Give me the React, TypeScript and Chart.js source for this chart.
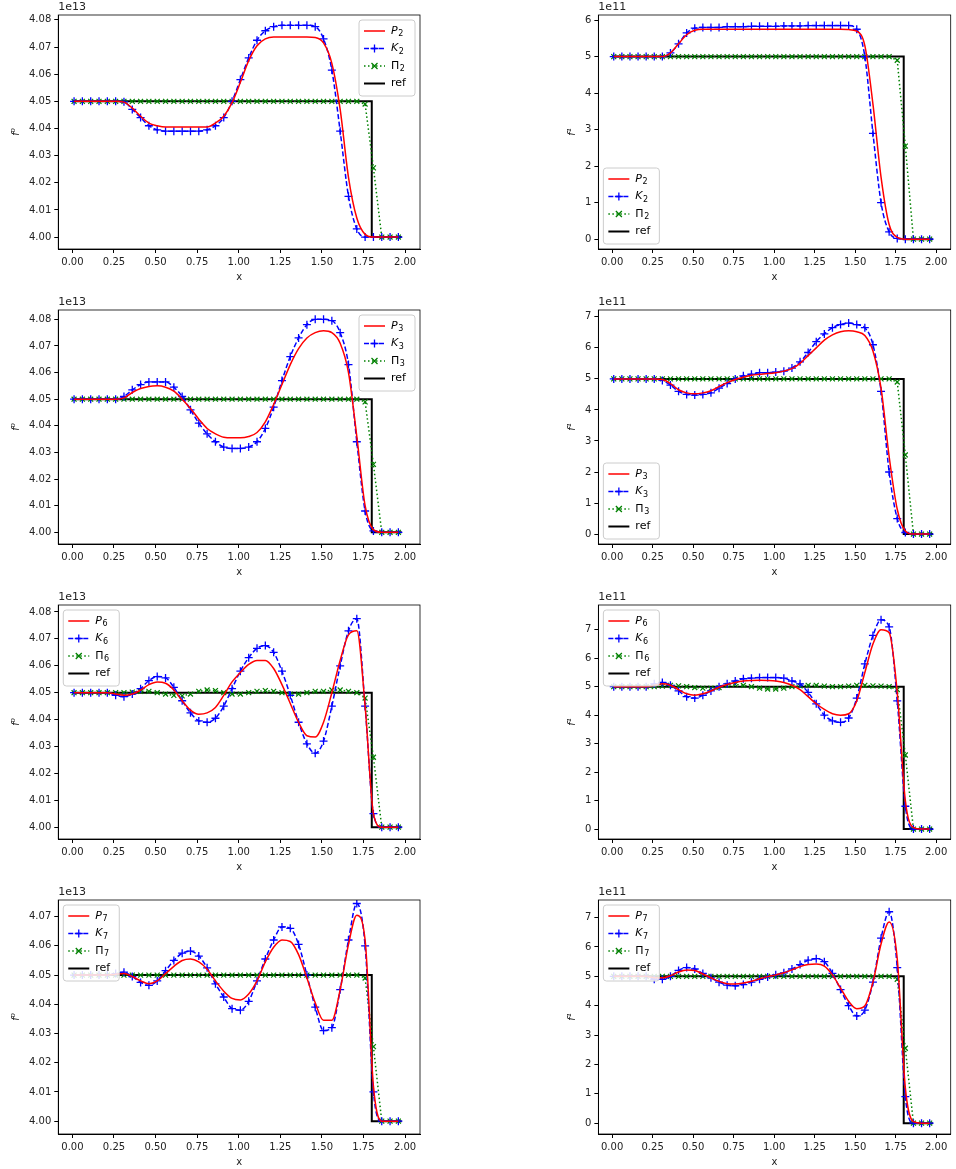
import React, { useEffect, useRef } from "react";
import { Chart, registerables } from "chart.js";
Chart.register(...registerables);

const xs = [0.01,0.06,0.11,0.16,0.21,0.26,0.31,0.36,0.41,0.46,0.51,0.56,0.61,0.66,0.71,0.76,0.81,0.86,0.91,0.96,1.01,1.06,1.11,1.16,1.21,1.26,1.31,1.36,1.41,1.46,1.51,1.56,1.61,1.66,1.71,1.76,1.81,1.86,1.91,1.96];
const refX = [0, 1.8, 1.8, 1.98];
const refLeft = [4.05, 4.05, 4.0, 4.0];
const refRight = [5, 5, 0, 0];
const xTicks = [0, 0.25, 0.5, 0.75, 1.0, 1.25, 1.5, 1.75, 2.0];
const leftTicks = [4.0, 4.01, 4.02, 4.03, 4.04, 4.05, 4.06, 4.07, 4.08];
const rightTicks6 = [0, 1, 2, 3, 4, 5, 6];
const rightTicks7 = [0, 1, 2, 3, 4, 5, 6, 7];

const piLeft = [4.05,4.05,4.05,4.05,4.05,4.05,4.05,4.05,4.05,4.05,4.05,4.05,4.05,4.05,4.05,4.05,4.05,4.05,4.05,4.05,4.05,4.05,4.05,4.05,4.05,4.05,4.05,4.05,4.05,4.05,4.05,4.05,4.05,4.05,4.05,4.049,4.0255,4.0,4.0,4.0];
const piRight = [5,5,5,5,5,5,5,5,5,5,5,5,5,5,5,5,5,5,5,5,5,5,5,5,5,5,5,5,5,5,5,5,5,5,5,4.9,2.55,0,0,0];

const k2L = [4.05,4.05,4.05,4.05,4.05, 4.05,4.0498,4.047,4.044,4.041, 4.0395,4.039,4.039,4.039,4.039, 4.039,4.0395,4.041,4.044,4.050, 4.058,4.066,4.0725,4.076,4.0775, 4.078,4.078,4.078,4.078,4.0775, 4.073,4.0615,4.039,4.015,4.003, 4.000,4.0,4.0,4.0,4.0];
const p2L = [4.05,4.05,4.05,4.05,4.05, 4.05,4.0497,4.0475,4.0445,4.042, 4.041,4.0405,4.0405,4.0405,4.0405, 4.0405,4.0405,4.042,4.0445,4.0495, 4.057,4.065,4.0705,4.073,4.0737, 4.0737,4.0737,4.0737,4.0737,4.0735, 4.0715,4.064,4.047,4.022,4.007, 4.001,4.0,4.0,4.0,4.0];
const k2R = [5,5,5,5,5, 5,5.0,5.1,5.35,5.65, 5.78,5.8,5.8,5.8,5.82, 5.82,5.82,5.83,5.83,5.83, 5.83,5.84,5.84,5.84,5.85, 5.85,5.85,5.85,5.85,5.85, 5.75,5.0,2.9,1.0,0.2, 0.02,0,0,0,0];
const p2R = [5,5,5,5,5, 5,5.0,5.1,5.35,5.6, 5.72,5.75,5.75,5.75,5.75, 5.75,5.75,5.75,5.75,5.75, 5.75,5.75,5.75,5.75,5.75, 5.75,5.75,5.75,5.75,5.74, 5.7,5.3,3.7,1.7,0.4, 0.05,0,0,0,0];

const k3L = [4.05,4.05,4.05,4.05,4.05, 4.05,4.051,4.0535,4.0555,4.0565, 4.0565,4.0565,4.0545,4.051,4.046, 4.041,4.037,4.034,4.032,4.0315, 4.0315,4.032,4.034,4.039,4.047, 4.057,4.066,4.073,4.078,4.080, 4.080,4.0795,4.075,4.063,4.034, 4.008,4.0005,4.0,4.0,4.0];
const p3L = [4.05,4.05,4.05,4.05,4.05, 4.05,4.0505,4.0525,4.054,4.0548, 4.055,4.0545,4.053,4.050,4.0465, 4.0425,4.039,4.037,4.0357,4.0355, 4.0355,4.036,4.0375,4.0415,4.048, 4.0555,4.063,4.069,4.073,4.075, 4.0757,4.075,4.071,4.060,4.036, 4.010,4.001,4.0,4.0,4.0];
const k3R = [5,5,5,5,5, 5,4.95,4.8,4.6,4.5, 4.48,4.5,4.55,4.7,4.85, 5.0,5.1,5.15,5.2,5.2, 5.22,5.25,5.35,5.55,5.85, 6.2,6.45,6.65,6.75,6.8, 6.75,6.65,6.1,4.6,2.0, 0.5,0.05,0,0,0];
const p3R = [5,5,5,5,5, 5,4.98,4.85,4.65,4.55, 4.52,4.55,4.62,4.75,4.88, 4.98,5.05,5.12,5.15,5.17, 5.2,5.25,5.33,5.5,5.75, 6.0,6.25,6.42,6.52,6.55, 6.52,6.4,5.9,4.7,2.5, 0.8,0.1,0,0,0];

const k6L = [4.05,4.05,4.05,4.05,4.05, 4.049,4.0485,4.0495,4.0515,4.0545, 4.056,4.0555,4.052,4.047,4.0425, 4.0395,4.039,4.0405,4.045,4.0515, 4.058,4.063,4.0665,4.0675,4.065, 4.058,4.049,4.039,4.031,4.0275, 4.032,4.045,4.060,4.073,4.0775, 4.045,4.005,4.0,4.0,4.0];
const p6L = [4.05,4.05,4.05,4.05,4.05, 4.0495,4.049,4.0495,4.051,4.053, 4.054,4.0535,4.051,4.047,4.0435, 4.042,4.0425,4.0445,4.049,4.054, 4.0575,4.0605,4.062,4.062,4.059, 4.053,4.046,4.039,4.034,4.0335, 4.039,4.050,4.062,4.0715,4.073, 4.045,4.005,4.0,4.0,4.0];
const pi6L = [4.05,4.05,4.05,4.05,4.05, 4.05,4.05,4.0502,4.0505,4.0505, 4.05,4.0495,4.049,4.0488,4.0495, 4.0505,4.051,4.0508,4.05,4.0495, 4.0495,4.05,4.0505,4.0508,4.0505, 4.05,4.0495,4.0495,4.05,4.0505, 4.0505,4.051,4.051,4.0505,4.050, 4.048,4.026,4.0,4.0,4.0];
const k6R = [5,5,5,5,5, 5.1,5.15,5.05,4.85,4.65, 4.6,4.7,4.85,5.0,5.1, 5.2,5.28,5.3,5.32,5.32, 5.32,5.3,5.2,5.1,4.8, 4.4,4.0,3.8,3.75,3.9, 4.6,5.8,6.8,7.35,7.1, 4.5,0.8,0,0,0];
const p6R = [5,5,5,5,5, 5.05,5.1,5.05,4.9,4.75, 4.7,4.75,4.85,4.98,5.08, 5.15,5.2,5.22,5.23,5.22, 5.2,5.15,5.05,4.9,4.65, 4.4,4.2,4.05,4.0,4.05, 4.5,5.5,6.5,7.0,6.9, 4.8,1.0,0.05,0,0];
const pi6R = [5,5,5,5,5, 5,5.02,5.05,5.03,5.0, 4.97,4.95,4.95,4.97,5.05, 5.08,5.05,5.0,4.95,4.92, 4.92,4.95,5.0,5.03,5.05, 5.05,5.02,5.0,5.0,5.02, 5.05,5.05,5.03,5.02,5.0, 4.9,2.6,0,0,0];

const k7L = [4.05,4.05,4.05,4.05,4.05, 4.0505,4.051,4.0495,4.0475,4.0465, 4.048,4.0515,4.055,4.0575,4.0582, 4.0565,4.0525,4.047,4.0425,4.0385, 4.038,4.041,4.048,4.0555,4.062, 4.0665,4.066,4.0605,4.050,4.039, 4.031,4.032,4.045,4.062,4.0745, 4.060,4.010,4.0,4.0,4.0];
const p7L = [4.05,4.05,4.05,4.05,4.05, 4.0503,4.0505,4.0495,4.048,4.047, 4.048,4.0505,4.053,4.055,4.0555, 4.0545,4.052,4.048,4.0445,4.042, 4.0415,4.0435,4.048,4.0545,4.0595, 4.062,4.0615,4.057,4.049,4.0405, 4.0345,4.0345,4.045,4.0605,4.0705, 4.062,4.012,4.0,4.0,4.0];
const k7R = [5,5,5,5,5, 4.9,4.9,5.0,5.2,5.3, 5.25,5.1,4.95,4.8,4.7, 4.68,4.72,4.8,4.9,4.98, 5.05,5.12,5.25,5.4,5.55, 5.6,5.5,5.1,4.55,4.0, 3.65,3.85,4.8,6.3,7.2, 5.3,0.9,0,0,0];
const p7R = [5,5,5,5,5, 4.95,4.95,5.02,5.15,5.22, 5.2,5.08,4.95,4.83,4.75, 4.74,4.77,4.83,4.92,4.99, 5.05,5.12,5.22,5.33,5.4, 5.42,5.35,5.05,4.6,4.15, 3.9,4.0,4.8,6.1,6.85, 5.6,1.2,0.05,0,0];

type Cfg = {
  left: number; top: number; width: number; side: "L" | "R"; order: string;
  p: number[]; k: number[]; pi: number[]; ymin: number; ymax: number; yticks: number[];
  legend: "ur" | "ll" | "ul";
};

const H = 287;
const panels: Cfg[] = [
  { left: 0, top: 0, width: 430, side: "L", order: "2", p: p2L, k: k2L, pi: piLeft, ymin: 3.9956, ymax: 4.0818, yticks: leftTicks, legend: "ur" },
  { left: 558, top: 0, width: 398, side: "R", order: "2", p: p2R, k: k2R, pi: piRight, ymin: -0.27, ymax: 6.14, yticks: rightTicks6, legend: "ll" },
  { left: 0, top: 295, width: 430, side: "L", order: "3", p: p3L, k: k3L, pi: piLeft, ymin: 3.9956, ymax: 4.0835, yticks: leftTicks, legend: "ur" },
  { left: 558, top: 295, width: 398, side: "R", order: "3", p: p3R, k: k3R, pi: piRight, ymin: -0.32, ymax: 7.22, yticks: rightTicks7, legend: "ll" },
  { left: 0, top: 590, width: 430, side: "L", order: "6", p: p6L, k: k6L, pi: pi6L, ymin: 3.9956, ymax: 4.0826, yticks: leftTicks, legend: "ul" },
  { left: 558, top: 590, width: 398, side: "R", order: "6", p: p6R, k: k6R, pi: pi6R, ymin: -0.35, ymax: 7.87, yticks: rightTicks7, legend: "ul" },
  { left: 0, top: 885, width: 430, side: "L", order: "7", p: p7L, k: k7L, pi: piLeft, ymin: 3.9956, ymax: 4.0757, yticks: leftTicks, legend: "ul" },
  { left: 558, top: 885, width: 398, side: "R", order: "7", p: p7R, k: k7R, pi: piRight, ymin: -0.37, ymax: 7.6, yticks: rightTicks7, legend: "ul" },
];

const FONT = "'DejaVu Sans', sans-serif";

function drawMarker(ctx: CanvasRenderingContext2D, kind: string, x: number, y: number, color: string) {
  ctx.save();
  ctx.strokeStyle = color;
  ctx.lineWidth = 1.3;
  ctx.setLineDash([]);
  ctx.beginPath();
  if (kind === "+") {
    ctx.moveTo(x - 4, y); ctx.lineTo(x + 4, y); ctx.moveTo(x, y - 4); ctx.lineTo(x, y + 4);
  } else {
    ctx.moveTo(x - 3, y - 3); ctx.lineTo(x + 3, y + 3); ctx.moveTo(x - 3, y + 3); ctx.lineTo(x + 3, y - 3);
  }
  ctx.stroke();
  ctx.restore();
}

function Panel({ cfg }: { cfg: Cfg }) {
  const ref = useRef<HTMLCanvasElement>(null);
  useEffect(() => {
    const pts = (ys: number[]) => xs.map((x, i) => ({ x, y: ys[i] }));
    const refY = cfg.side === "L" ? refLeft : refRight;
    const entries = [
      { base: "P", sub: cfg.order, italic: true, color: "#ff0000", dash: [] as number[], marker: "" },
      { base: "K", sub: cfg.order, italic: true, color: "#0000ff", dash: [5, 2.5], marker: "+" },
      { base: "Π", sub: cfg.order, italic: false, color: "#008000", dash: [1.5, 2.5], marker: "x" },
      { base: "ref", sub: "", italic: false, color: "#000000", dash: [] as number[], marker: "" },
    ];
    const plugin = {
      id: "deco",
      afterDraw(chart: any) {
        const ctx = chart.ctx as CanvasRenderingContext2D;
        const a = chart.chartArea;
        ctx.save();
        ctx.strokeStyle = "#000";
        ctx.lineWidth = 0.8;
        ctx.strokeRect(a.left, a.top, a.right - a.left, a.bottom - a.top);
        ctx.fillStyle = "#222";
        ctx.font = `11px ${FONT}`;
        ctx.textAlign = "left";
        ctx.textBaseline = "bottom";
        ctx.fillText(cfg.side === "L" ? "1e13" : "1e11", a.left, a.top - 2);
        const bw = 56, bh = 76;
        let bx = a.right - bw - 5, by = a.top + 5;
        if (cfg.legend === "ll") { bx = a.left + 5; by = a.bottom - bh - 5; }
        if (cfg.legend === "ul") { bx = a.left + 5; by = a.top + 5; }
        ctx.fillStyle = "rgba(255,255,255,0.85)";
        ctx.strokeStyle = "#cccccc";
        ctx.lineWidth = 1;
        ctx.beginPath();
        (ctx as any).roundRect ? (ctx as any).roundRect(bx, by, bw, bh, 3) : ctx.rect(bx, by, bw, bh);
        ctx.fill(); ctx.stroke();
        entries.forEach((e, i) => {
          const cy = by + 11 + i * 17.5;
          ctx.save();
          ctx.strokeStyle = e.color;
          ctx.lineWidth = e.base === "ref" ? 2 : 1.5;
          ctx.setLineDash(e.dash);
          ctx.beginPath(); ctx.moveTo(bx + 5, cy); ctx.lineTo(bx + 26, cy); ctx.stroke();
          ctx.restore();
          if (e.marker) drawMarker(ctx, e.marker, bx + 15.5, cy, e.color);
          ctx.fillStyle = "#000";
          ctx.textBaseline = "middle";
          ctx.font = `${e.italic ? "italic " : ""}11px ${FONT}`;
          ctx.fillText(e.base, bx + 32, cy);
          if (e.sub) {
            const w = ctx.measureText(e.base).width;
            ctx.font = `8px ${FONT}`;
            ctx.fillText(e.sub, bx + 32 + w + 0.5, cy + 3);
          }
        });
        ctx.restore();
      },
    };
    const chart = new Chart(ref.current!, {
      type: "line",
      data: {
        datasets: [
          { data: pts(cfg.p), borderColor: "#ff0000", borderWidth: 1.5, pointRadius: 0, cubicInterpolationMode: "monotone" } as any,
          { data: pts(cfg.k), borderColor: "#0000ff", borderWidth: 1.5, borderDash: [5, 2.5], pointStyle: "cross", pointRadius: 4, pointBorderWidth: 1.3, pointBorderColor: "#0000ff", cubicInterpolationMode: "monotone" },
          { data: pts(cfg.pi), borderColor: "#008000", borderWidth: 1.5, borderDash: [1.5, 2.5], pointStyle: "crossRot", pointRadius: 3.5, pointBorderWidth: 1.2, pointBorderColor: "#008000" },
          { data: refX.map((x, i) => ({ x, y: refY[i] })), borderColor: "#000000", borderWidth: 2, pointRadius: 0 },
        ],
      },
      options: {
        animation: false,
        responsive: false,
        layout: { padding: { top: 15, left: cfg.side === "L" ? 6 : 4, right: cfg.side === "R" ? 1 : 10 } },
        plugins: { legend: { display: false }, tooltip: { enabled: false } },
        scales: {
          x: {
            type: "linear", min: -0.085, max: 2.09,
            afterBuildTicks: (ax: any) => { ax.ticks = xTicks.map((v) => ({ value: v })); },
            ticks: { color: "#222", font: { family: FONT, size: 10 }, callback: (v: any) => Number(v).toFixed(2), maxRotation: 0 },
            grid: { drawOnChartArea: false, drawTicks: true, tickLength: 4, color: "#000" },
            border: { color: "#000" },
            title: { display: true, text: "x", color: "#222", font: { family: FONT, size: 10 }, padding: { top: 0 } },
          },
          y: {
            type: "linear", min: cfg.ymin, max: cfg.ymax,
            afterBuildTicks: (ax: any) => { ax.ticks = cfg.yticks.filter((v) => v >= cfg.ymin && v <= cfg.ymax).map((v) => ({ value: v })); },
            ticks: { color: "#222", font: { family: FONT, size: 10 }, callback: (v: any) => cfg.side === "L" ? Number(v).toFixed(2) : String(Math.round(Number(v))) },
            grid: { drawOnChartArea: false, drawTicks: true, tickLength: 4, color: "#000" },
            border: { color: "#000" },
            title: { display: true, text: cfg.side === "L" ? "f⁰" : "f¹", color: "#222", font: { family: FONT, size: 10, style: "italic" } },
          },
        },
      },
      plugins: [plugin],
    } as any);
    return () => chart.destroy();
  }, [cfg]);
  return (
    <canvas ref={ref} width={cfg.width} height={H}
      style={{ position: "absolute", left: cfg.left, top: cfg.top, width: cfg.width, height: H }} />
  );
}

export default function App() {
  return (
    <div style={{ position: "absolute", left: 0, top: 0, width: 956, height: 1169, background: "#fff" }}>
      {panels.map((c, i) => <Panel key={i} cfg={c} />)}
    </div>
  );
}
